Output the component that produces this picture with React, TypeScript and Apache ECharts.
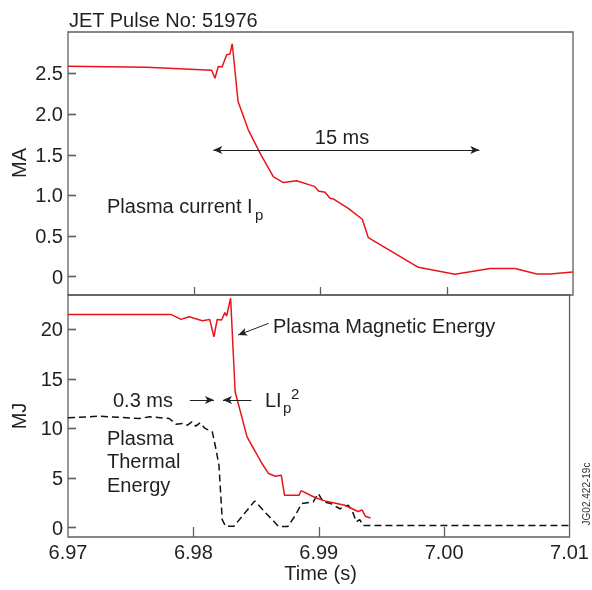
import React, { useEffect, useRef } from "react";
import * as echarts from "echarts";

// Plasma current Ip (MA)
const ipTime = [6.97, 6.97623, 6.98138, 6.98164, 6.9819, 6.9822, 6.98257, 6.98283, 6.98301, 6.98347, 6.98428, 6.98521, 6.98626, 6.98705, 6.98811, 6.98956, 6.98983, 6.99036, 6.99075, 6.99101, 6.9922, 6.99331, 6.99379, 6.99775, 7.00065, 7.00343, 7.00541, 7.00713, 7.00818, 7.01];
const ipValue = [2.59, 2.575, 2.54, 2.44, 2.585, 2.58, 2.73, 2.74, 2.865, 2.155, 1.807, 1.52, 1.23, 1.158, 1.18, 1.108, 1.055, 1.04, 0.965, 0.957, 0.84, 0.707, 0.48, 0.115, 0.03, 0.1, 0.1, 0.033, 0.033, 0.058];

// Plasma magnetic energy (MJ)
const magTime = [6.97, 6.97821, 6.97901, 6.97966, 6.98072, 6.9813, 6.98164, 6.9819, 6.98225, 6.98251, 6.98265, 6.98297, 6.98333, 6.98428, 6.98547, 6.986, 6.98653, 6.98701, 6.98727, 6.98843, 6.98859, 6.9897, 6.99049, 6.99208, 6.99313, 6.99345, 6.99371, 6.99413];
const magValue = [21.5, 21.5, 21.0, 21.27, 20.87, 21.0, 19.25, 21.0, 20.94, 21.68, 21.34, 23.13, 13.7, 9.15, 6.46, 5.45, 5.18, 5.28, 3.26, 3.26, 3.72, 3.03, 2.69, 2.25, 1.62, 1.78, 1.15, 0.97];

// Plasma thermal energy (MJ)
const thTime = [6.97, 6.97253, 6.9757, 6.9765, 6.97808, 6.97861, 6.97913, 6.97953, 6.97988, 6.98019, 6.98053, 6.98093, 6.98151, 6.98177, 6.98204, 6.9823, 6.98257, 6.98323, 6.98402, 6.98489, 6.98587, 6.98679, 6.98753, 6.98811, 6.98864, 6.98956, 6.98996, 6.99036, 6.99101, 6.99168, 6.99234, 6.99265, 6.993, 6.99327, 6.99353, 7.01];
const thValue = [11.07, 11.24, 11.0, 11.17, 11.0, 10.43, 10.5, 10.33, 10.67, 10.23, 10.57, 10.0, 9.66, 8.1, 6.3, 0.8, 0.13, 0.13, 1.34, 2.69, 1.34, 0.13, 0.1, 1.2, 2.42, 2.6, 3.43, 2.6, 2.4, 1.9, 2.25, 1.75, 0.57, 0.81, 0.2, 0.2];

const ipTicks = [0, 0.5, 1.0, 1.5, 2.0, 2.5];
const energyTicks = [0, 5, 10, 15, 20];
const timeTicks = [6.97, 6.98, 6.99, 7.0, 7.01];
const innerTimeTicks = [6.98, 6.99, 7.0];

const FONT = "Liberation Sans, Arial, Helvetica, sans-serif";
const TXT = "#231f20";
const AX = "#5f5f5f";
const RED = "#e8141c";

const zip = (a: number[], b: number[]) => a.map((t, i) => [t, b[i]]);

export default function App() {
  const ref = useRef<HTMLDivElement>(null);
  useEffect(() => {
    if (!ref.current) return;
    const chart = echarts.init(ref.current, null, { renderer: "svg" });
    const arrowStyle = { color: "#222", width: 1, type: "solid" as const };
    const tickStyle = { color: AX, width: 1.4, type: "solid" as const };
    const noLine = () => ({ show: false, onZero: false });
    const tick = (len: number, values: number[]) => ({
      show: true,
      inside: true,
      length: len,
      customValues: values,
      lineStyle: { color: AX, width: 1.3 },
    });
    // inward y ticks as short markLine segments in data units (about 8 px long)
    const tickLen = 0.00063;
    const yTickSegs = (values: number[]) =>
      values.map((v) => [
        { coord: [6.97, v], symbol: "none", lineStyle: tickStyle },
        { coord: [6.97 + tickLen, v], symbol: "none" },
      ]);
    const txt = (text: string, x: number, y: number, extra: any = {}) => ({
      type: "text",
      x,
      y,
      silent: true,
      ...extra,
      style: {
        text,
        fontSize: 20,
        fontFamily: FONT,
        fill: TXT,
        align: "left",
        verticalAlign: "middle",
        ...(extra.style || {}),
      },
    });
    const yAxisBase = (gridIndex: number, min: number, max: number, ticks: number[], fmt: (v: number) => string) => ({
      type: "value",
      gridIndex,
      min,
      max,
      axisLine: noLine(),
      axisLabel: {
        customValues: ticks,
        formatter: fmt,
        fontSize: 20,
        color: TXT,
        margin: 5,
      },
      axisTick: tick(8, ticks),
      splitLine: { show: false },
    });
    chart.setOption({
      animation: false,
      textStyle: { fontFamily: FONT },
      grid: [
        { left: 68, right: 19, top: 32, height: 263, show: true, borderColor: AX, borderWidth: 1.3 },
        { left: 68, right: 19, top: 295, height: 242, show: true, borderColor: AX, borderWidth: 1.3 },
      ],
      xAxis: [
        {
          type: "value",
          gridIndex: 0,
          min: 6.97,
          max: 7.01,
          axisLine: noLine(),
          splitLine: { show: false },
          axisLabel: { show: false, customValues: innerTimeTicks },
          axisTick: tick(8, innerTimeTicks),
        },
        {
          type: "value",
          gridIndex: 1,
          min: 6.97,
          max: 7.01,
          axisLine: noLine(),
          splitLine: { show: false },
          axisLabel: {
            customValues: timeTicks,
            formatter: (v: number) => v.toFixed(2),
            fontSize: 20,
            color: TXT,
            margin: 5,
          },
          axisTick: tick(10, innerTimeTicks),
        },
      ],
      yAxis: [
        yAxisBase(0, -0.225, 3.01, ipTicks, (v: number) => (v === 0 ? "0" : v.toFixed(1))),
        yAxisBase(1, -0.95, 23.46, energyTicks, (v: number) => String(v)),
      ],
      series: [
        {
          type: "line",
          xAxisIndex: 0,
          yAxisIndex: 0,
          data: zip(ipTime, ipValue),
          symbol: "none",
          lineStyle: { color: RED, width: 1.5 },
          silent: true,
          markLine: {
            silent: true,
            symbol: ["arrow", "arrow"],
            symbolSize: [6, 9],
            label: { show: false },
            lineStyle: arrowStyle,
            data: [
              [{ coord: [6.98151, 1.56] }, { coord: [7.00258, 1.56] }],
              ...yTickSegs(ipTicks),
            ],
          },
        },
        {
          type: "line",
          xAxisIndex: 1,
          yAxisIndex: 1,
          data: zip(magTime, magValue),
          symbol: "none",
          lineStyle: { color: RED, width: 1.5 },
          silent: true,
          z: 3,
          markLine: {
            silent: true,
            symbol: ["none", "arrow"],
            symbolSize: [6, 9],
            label: { show: false },
            lineStyle: arrowStyle,
            data: [
              [{ coord: [6.986, 20.6] }, { coord: [6.98357, 19.42] }],
              [{ coord: [6.97972, 12.86] }, { coord: [6.98164, 12.86] }],
              [{ coord: [6.98463, 12.86] }, { coord: [6.98236, 12.86] }],
              ...yTickSegs(energyTicks),
            ],
          },
        },
        {
          type: "line",
          xAxisIndex: 1,
          yAxisIndex: 1,
          data: zip(thTime, thValue),
          symbol: "none",
          lineStyle: { color: "#111", width: 1.5, type: [7, 4] },
          silent: true,
          z: 2,
        },
      ],
      graphic: [
        txt("JET Pulse No: 51976", 69, 19.5),
        txt("MA", 18.5, 163, { rotation: Math.PI / 2, style: { align: "center" } }),
        txt("MJ", 18.5, 416, { rotation: Math.PI / 2, style: { align: "center" } }),
        txt("15 ms", 342, 137, { style: { align: "center" } }),
        txt("Plasma current I", 107, 206),
        txt("p", 255, 214, { style: { fontSize: 15 } }),
        txt("Plasma Magnetic Energy", 273, 325.5),
        txt("0.3 ms", 113, 399.5),
        txt("LI", 265, 399.5),
        txt("p", 283, 407.5, { style: { fontSize: 15 } }),
        txt("2", 291, 393.5, { style: { fontSize: 15 } }),
        txt("Plasma", 107, 437.5),
        txt("Thermal", 107, 461),
        txt("Energy", 107, 484.5),
        txt("Time (s)", 320.5, 573, { style: { align: "center" } }),
        txt("JG02.422-19c", 586, 494, { rotation: Math.PI / 2, style: { align: "center", fontSize: 10, fill: "#333" } }),
      ],
    });
    return () => chart.dispose();
  }, []);
  return <div ref={ref} style={{ position: "fixed", left: 0, top: 0, width: 592, height: 590 }} />;
}
